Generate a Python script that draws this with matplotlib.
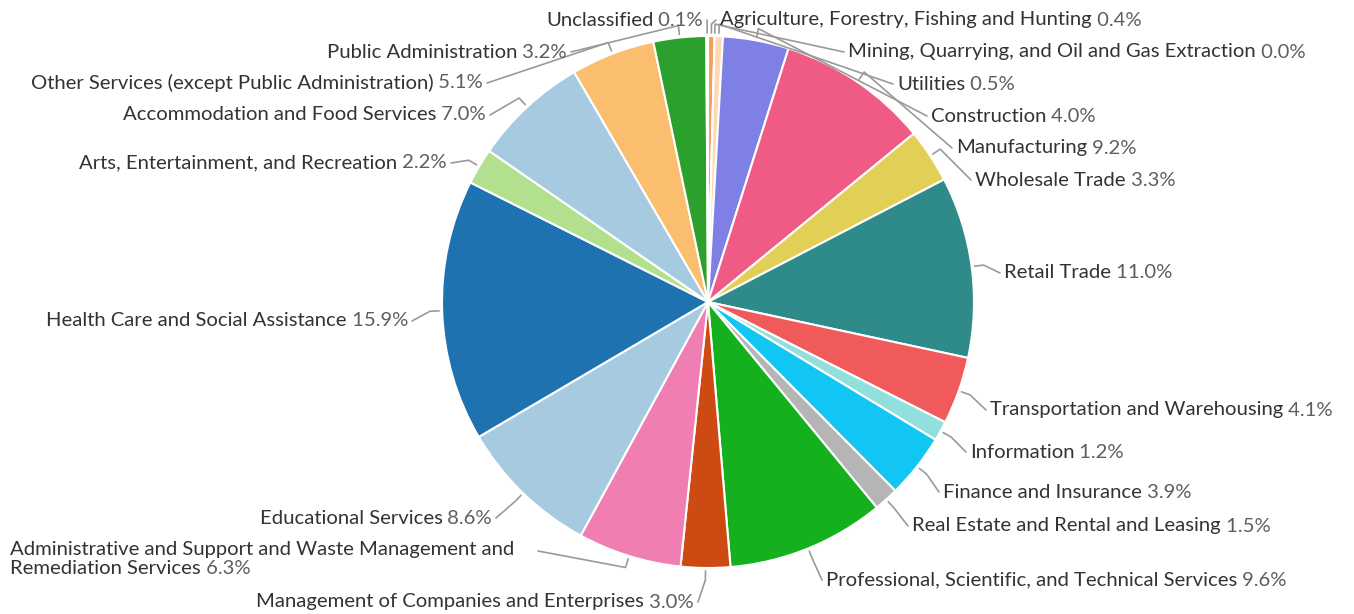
import numpy as np
import matplotlib.pyplot as plt

plt.rcParams['font.family'] = ['Lato', 'DejaVu Sans']

# employment share by industry, clockwise from 12 o'clock
industries = [
    "Agriculture, Forestry, Fishing and Hunting",
    "Mining, Quarrying, and Oil and Gas Extraction",
    "Utilities",
    "Construction",
    "Manufacturing",
    "Wholesale Trade",
    "Retail Trade",
    "Transportation and Warehousing",
    "Information",
    "Finance and Insurance",
    "Real Estate and Rental and Leasing",
    "Professional, Scientific, and Technical Services",
    "Management of Companies and Enterprises",
    "Administrative and Support and Waste Management and\nRemediation Services",
    "Educational Services",
    "Health Care and Social Assistance",
    "Arts, Entertainment, and Recreation",
    "Accommodation and Food Services",
    "Other Services (except Public Administration)",
    "Public Administration",
    "Unclassified",
]
shares = [0.4, 0.0, 0.5, 4.0, 9.2, 3.3, 11.0, 4.1, 1.2, 3.9, 1.5,
          9.6, 3.0, 6.3, 8.6, 15.9, 2.2, 7.0, 5.1, 3.2, 0.1]
colors = ["#f4a05c", "#9a9a9a", "#ffd9b3", "#7f80e6", "#ef5b84", "#e2cf55",
          "#2e8b8a", "#f05a5a", "#92e0de", "#12c6f4", "#b5b5b5", "#14b01e",
          "#cd4a12", "#f07eb3", "#a6cbe0", "#1f72b0", "#b3e08e", "#a6cbe0",
          "#fbbd6e", "#2ca02c", "#8fc8ea"]

# label anchors in pixels (x, y from top) and side the text grows toward
label_pos = [(720, 20), (848, 52), (897, 84), (931, 116), (956, 148),
             (975, 180), (1004, 273), (990, 410), (970, 452), (943, 492),
             (912, 526), (826, 580), (694, 602), (10, 559), (492, 518),
             (408, 321), (447, 163), (486, 115), (483, 83), (567, 52),
             (703, 20)]
label_side = ["l", "l", "l", "l", "l", "l", "l", "l", "l", "l", "l", "l",
              "r", "l", "r", "r", "r", "r", "r", "r", "r"]

W, H = 1354, 614
cx, cy, R = 708, H - 302, 266

fig = plt.figure(figsize=(W / 100, H / 100), dpi=100)
ax = fig.add_axes([0, 0, 1, 1])

wedges, _ = ax.pie(shares, colors=colors, startangle=90, counterclock=False,
                   center=(cx, cy), radius=R,
                   wedgeprops=dict(edgecolor='white', linewidth=1.5))
ax.set_xlim(0, W)
ax.set_ylim(0, H)
ax.set_aspect('equal')
ax.axis('off')

name_col = "#333333"
pct_col = "#5e5e5e"
fs = 14.6

for w, name, val, (px, py), side in zip(wedges, industries, shares,
                                        label_pos, label_side):
    y = H - py
    mid = np.deg2rad((w.theta1 + w.theta2) / 2)
    p0 = (cx + (R + 3) * np.cos(mid), cy + (R + 3) * np.sin(mid))
    p1 = (cx + (R + 12) * np.cos(mid), cy + (R + 12) * np.sin(mid))
    pct = f" {val:.1f}%"
    if "\n" in name:
        first, second = name.split("\n")
        ax.text(px, y + 9, first, ha='left', va='center', fontsize=fs,
                color=name_col)
        t = ax.text(px, y - 9, second, ha='left', va='center', fontsize=fs,
                    color=name_col)
        ax.annotate(pct, xy=(1, 0.5), xycoords=t, ha='left', va='center',
                    fontsize=fs, color=pct_col)
        end = (538, y + 8)
    elif side == "l":
        t = ax.text(px, y, name, ha='left', va='center', fontsize=fs,
                    color=name_col)
        ax.annotate(pct, xy=(1, 0.5), xycoords=t, ha='left', va='center',
                    fontsize=fs, color=pct_col)
        end = (px - 4, y)
    else:
        t = ax.text(px, y, pct, ha='right', va='center', fontsize=fs,
                    color=pct_col)
        ax.annotate(name, xy=(0, 0.5), xycoords=t, ha='right', va='center',
                    fontsize=fs, color=name_col)
        end = (px + 4, y)
    ax.plot([p0[0], p1[0], end[0]], [p0[1], p1[1], end[1]],
            color="#9a9a9a", linewidth=1.2, solid_capstyle='round')

fig.savefig("out.png", dpi=100, facecolor='white')
